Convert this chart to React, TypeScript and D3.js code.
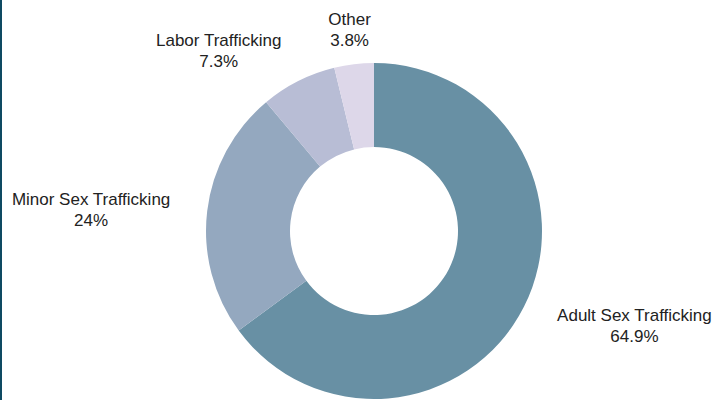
import React from "react";
import * as d3 from "d3";

const categories = ["Adult Sex Trafficking", "Minor Sex Trafficking", "Labor Trafficking", "Other"];
const values = [64.9, 24, 7.3, 3.8];
const valueLabels = ["64.9%", "24%", "7.3%", "3.8%"];
const colors = ["#6890a4", "#94a8bf", "#b8bdd5", "#ddd7e9"];

const W = 715;
const H = 400;
const cx = 374;
const cy = 231;
const outerR = 168;
const innerR = 84;
const labelR = 205;
const fontSize = 17;
const fontFamily = "'Liberation Sans', Arial, sans-serif";

let ctx: CanvasRenderingContext2D | null = null;
function measure(t: string): number {
  if (!ctx) {
    const c = document.createElement("canvas");
    ctx = c.getContext("2d");
  }
  if (!ctx) return t.length * fontSize * 0.5;
  ctx.font = `${fontSize}px ${fontFamily}`;
  return ctx.measureText(t).width;
}

export default function App() {
  const data = categories.map((c, i) => ({ name: c, value: values[i], label: valueLabels[i], color: colors[i] }));
  const pie = d3.pie<any>().value((d: any) => d.value).sort(null);
  const arcs = pie(data);
  const arc = d3.arc<any>().innerRadius(innerR).outerRadius(outerR);

  React.useEffect(() => {
    document.body.style.margin = "0";
  }, []);

  return (
    <svg width={W} height={H} style={{ display: "block", fontFamily }}>
      <rect x={0} y={0} width={W} height={H} fill="#ffffff" />
      <rect x={0} y={0} width={2} height={H} fill="#0e4a62" />
      <g transform={`translate(${cx},${cy})`}>
        {arcs.map((a, i) => (
          <path key={i} d={arc(a) as string} fill={a.data.color} />
        ))}
        {arcs.map((a, i) => {
          const mid = (a.startAngle + a.endAngle) / 2;
          const s = Math.sin(mid);
          const px = labelR * s;
          const py = -labelR * Math.cos(mid);
          const w = Math.max(measure(a.data.name), measure(a.data.label));
          const x = Math.abs(s) < 0.3 ? px : s > 0 ? px + w / 2 : px - w / 2;
          return (
            <text key={"t" + i} textAnchor="middle" fontSize={fontSize} fill="#222">
              <tspan x={x} y={py - 2}>{a.data.name}</tspan>
              <tspan x={x} y={py + 19}>{a.data.label}</tspan>
            </text>
          );
        })}
      </g>
    </svg>
  );
}
